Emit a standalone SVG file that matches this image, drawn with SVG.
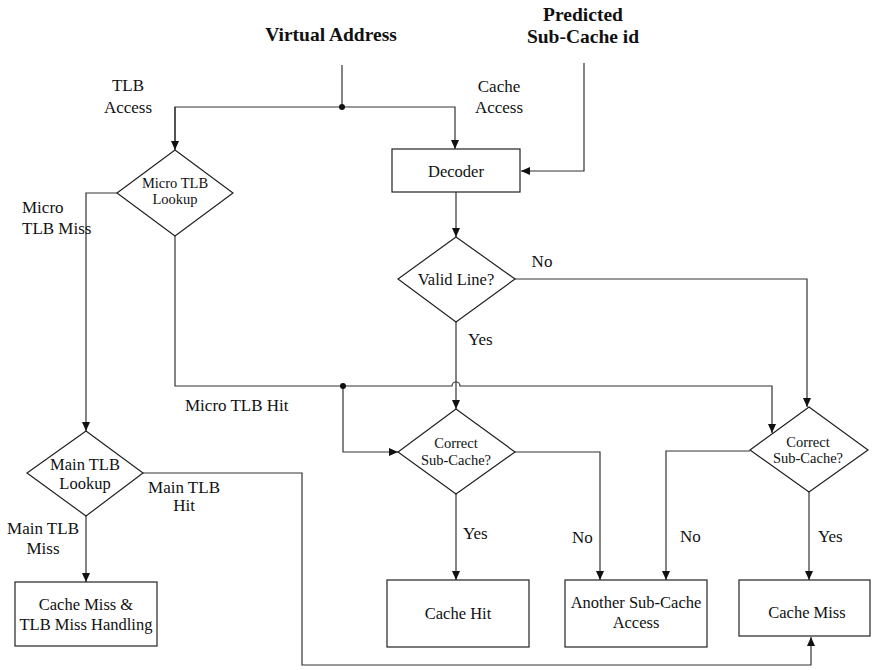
<svg xmlns="http://www.w3.org/2000/svg" width="874" height="670" viewBox="0 0 874 670" font-family="'Liberation Serif', 'DejaVu Serif', serif">
<defs>
<marker id="ah" markerWidth="10" markerHeight="8" refX="9" refY="4" orient="auto" markerUnits="userSpaceOnUse">
<path d="M0,0 L9,4 L0,8 z" fill="#111"/>
</marker>
<style>
text{font-family:"Liberation Serif","DejaVu Serif",serif;fill:#111}
.t{font-size:17px}
.b{font-size:19.5px;font-weight:bold}
.n{font-size:16.5px}
.s{font-size:14.5px}
.c{text-anchor:middle}
.shape{fill:#fff;stroke:#222;stroke-width:1.2}
.ln{fill:none;stroke:#333;stroke-width:1.2}
.ar{marker-end:url(#ah)}
</style>
</defs>
<rect width="874" height="670" fill="#fff"/>
<g id="connectors">
<path class="ln" d="M342,65 V107"/>
<path class="ln" d="M342,107 H175 V149"/>
<path class="ln ar" d="M175,107 V150"/>
<path class="ln ar" d="M342,107 H455 V149"/>
<path class="ln ar" d="M584,63 V171 H521"/>
<path class="ln ar" d="M117,193 H86 V431"/>
<path class="ln ar" d="M175,236 V386 H452 A4,4 0 0 1 460,386 H772 V433"/>
<path class="ln ar" d="M343,386 V452 H398"/>
<path class="ln ar" d="M456,192 V237"/>
<path class="ln ar" d="M515,279 H807 V407"/>
<path class="ln ar" d="M456,322 V409"/>
<path class="ln ar" d="M456,494 V580"/>
<path class="ln ar" d="M515,452 H600 V580"/>
<path class="ln ar" d="M750,451 H666 V580"/>
<path class="ln ar" d="M809,492 V580"/>
<path class="ln ar" d="M86,516 V582"/>
<path class="ln ar" d="M143,473 H302 V665 H811 V637"/>
<circle cx="342" cy="107" r="3" fill="#111"/>
<circle cx="343" cy="386" r="3" fill="#111"/>
</g>
<g id="labels">
<text class="b c" x="331" y="41">Virtual Address</text>
<text class="b c" x="583" y="21">Predicted</text>
<text class="b c" x="583" y="43">Sub-Cache id</text>
<text class="t c" x="128" y="91">TLB</text>
<text class="t c" x="128" y="113">Access</text>
<text class="t c" x="499" y="92">Cache</text>
<text class="t c" x="499" y="113">Access</text>
<text class="t" x="22" y="213">Micro</text>
<text class="t" x="22" y="234">TLB Miss</text>
<text class="t" x="185" y="411">Micro TLB Hit</text>
<text class="t c" x="542" y="267">No</text>
<text class="t" x="468" y="345">Yes</text>
<text class="t c" x="184" y="493">Main TLB</text>
<text class="t c" x="184" y="511">Hit</text>
<text class="t c" x="43" y="534">Main TLB</text>
<text class="t c" x="43" y="554">Miss</text>
<text class="t" x="463" y="539">Yes</text>
<text class="t" x="572" y="543">No</text>
<text class="t" x="680" y="542">No</text>
<text class="t" x="818" y="542">Yes</text>
</g>
<g id="decoder">
<rect class="shape" x="392" y="149" width="128" height="43"/>
<text class="n c" x="456" y="177">Decoder</text>
</g>
<g id="micro-tlb">
<path class="shape" d="M175,150 L233,193 L175,236 L117,193 Z"/>
<text class="s c" x="175" y="188">Micro TLB</text>
<text class="s c" x="175" y="204">Lookup</text>
</g>
<g id="valid-line">
<path class="shape" d="M456,237 L515,279 L456,322 L398,279 Z"/>
<text class="n c" x="456" y="285">Valid Line?</text>
</g>
<g id="correct-1">
<path class="shape" d="M456,409 L515,452 L456,494 L398,452 Z"/>
<text class="s c" x="456" y="448">Correct</text>
<text class="s c" x="456" y="465">Sub-Cache?</text>
</g>
<g id="correct-2">
<path class="shape" d="M809,407 L868,450 L809,492 L750,450 Z"/>
<text class="s c" x="808" y="447">Correct</text>
<text class="s c" x="808" y="463">Sub-Cache?</text>
</g>
<g id="main-tlb">
<path class="shape" d="M86,431 L143,473 L86,516 L27,473 Z"/>
<text class="n c" x="85" y="470">Main TLB</text>
<text class="n c" x="85" y="489">Lookup</text>
</g>
<g id="tlb-miss-handling">
<rect class="shape" x="15" y="582" width="142" height="64"/>
<text class="n c" x="86" y="610">Cache Miss &amp;</text>
<text class="n c" x="86" y="630">TLB Miss Handling</text>
</g>
<g id="cache-hit">
<rect class="shape" x="387" y="580" width="142" height="67"/>
<text class="n c" x="458" y="619">Cache Hit</text>
</g>
<g id="another-sub-cache">
<rect class="shape" x="565" y="580" width="142" height="67"/>
<text class="n c" x="636" y="608">Another Sub-Cache</text>
<text class="n c" x="636" y="628">Access</text>
</g>
<g id="cache-miss">
<rect class="shape" x="739" y="580" width="131" height="56"/>
<text class="n c" x="807" y="618">Cache Miss</text>
</g>
</svg>
